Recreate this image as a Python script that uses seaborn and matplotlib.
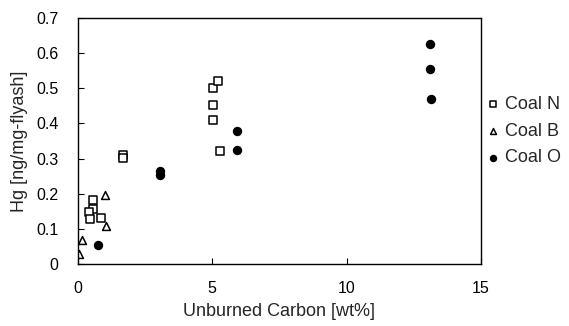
import pandas as pd
import numpy as np
import matplotlib
matplotlib.use('Agg')
import matplotlib.pyplot as plt
import seaborn as sns
from matplotlib.ticker import FuncFormatter

sns.set_style('ticks')
plt.rcParams['font.family'] = ['Liberation Sans', 'DejaVu Sans']

# Coal N (open squares)
coal_n_x = [0.55, 0.55, 0.42, 0.45, 0.87, 1.68, 1.68, 5.01, 5.22, 5.01, 5.01, 5.29]
coal_n_y = [0.182, 0.158, 0.149, 0.128, 0.131, 0.311, 0.301, 0.500, 0.521, 0.452, 0.409, 0.321]
# Coal B (open triangles)
coal_b_x = [0.03, 0.16, 1.02, 1.06]
coal_b_y = [0.030, 0.069, 0.197, 0.107]
# Coal O (filled circles)
coal_o_x = [0.75, 3.07, 3.07, 5.94, 5.94, 13.10, 13.12, 13.15]
coal_o_y = [0.053, 0.264, 0.254, 0.378, 0.324, 0.627, 0.554, 0.470]

series = [
    ('Coal N', coal_n_x, coal_n_y, 's', 'white'),
    ('Coal B', coal_b_x, coal_b_y, '^', 'white'),
    ('Coal O', coal_o_x, coal_o_y, 'o', 'black'),
]

fig = plt.figure(figsize=(5.69, 3.26), dpi=100)
ax = fig.add_axes([0.137, 0.190, 0.708, 0.755])

for name, xs, ys, mk, fc in series:
    df = pd.DataFrame({'x': xs, 'y': ys})
    sns.scatterplot(data=df, x='x', y='y', marker=mk, s=32, color=fc,
                    edgecolor='black', linewidth=1.1, label=name, ax=ax)

ax.set_xlim(0, 15)
ax.set_ylim(0, 0.7)
ax.set_xticks([0, 5, 10, 15])
ax.set_yticks(np.arange(0, 0.71, 0.1))
ax.yaxis.set_major_formatter(FuncFormatter(lambda v, p: '0' if abs(v) < 1e-9 else f'{v:.1f}'))
ax.tick_params(direction='in', length=4, width=0.8, labelsize=11.5, colors='black')
ax.tick_params(axis='x', pad=12)
ax.tick_params(axis='y', pad=14)
for sp in ax.spines.values():
    sp.set_visible(True)
    sp.set_color('black')
    sp.set_linewidth(1.0)

ax.set_xlabel('Unburned Carbon [wt%]', fontsize=13, labelpad=5)
ax.set_ylabel('Hg [ng/mg-flyash]', fontsize=13, labelpad=6)

ax.legend(loc='center left', bbox_to_anchor=(486 / 569, 1 - 131 / 326),
          bbox_transform=fig.transFigure, frameon=False,
          fontsize=13, markerscale=0.75, handlelength=0.8, handletextpad=0.25,
          labelspacing=0.55, borderpad=0, borderaxespad=0)

fig.savefig('out.png', dpi=100)
